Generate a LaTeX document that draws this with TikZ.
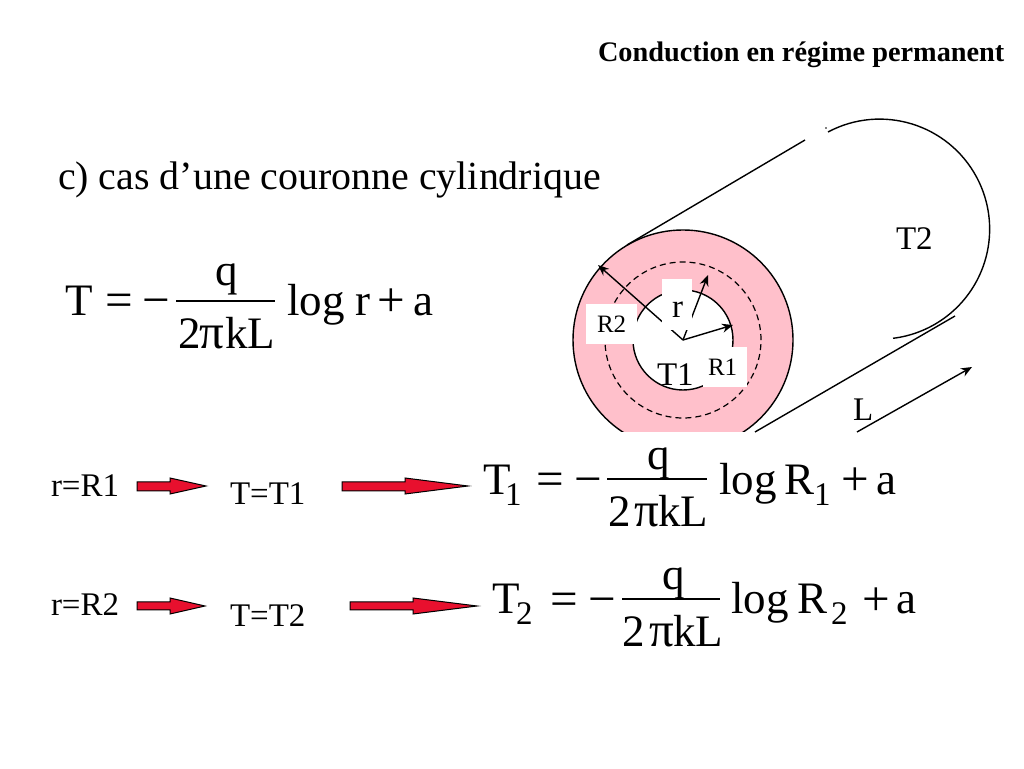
\documentclass[tikz,border=0pt]{standalone}
\usepackage{fontspec}
\setmainfont{Liberation Serif}
\usetikzlibrary{arrows.meta}
\definecolor{ringpink}{HTML}{FFC0CB}
\definecolor{arrowred}{HTML}{E8102E}
\newcommand{\fsz}[1]{\fontsize{#1}{#1}\selectfont}
\tikzset{
  x=1pt,y=1pt,
  lab/.style={anchor=base west,inner sep=0pt,outer sep=0pt,text=black},
  big/.style={lab,font=\fsz{45}},
  sym/.style={lab,font=\fsz{49}},
  sub/.style={lab,font=\fsz{33}},
  mid/.style={lab,font=\fsz{33}},
  dia/.style={lab,font=\fsz{33}},
  small/.style={lab,font=\fsz{25}},
  thin line/.style={draw=black,line width=1.4pt},
  tipline/.style={thin line,-{Stealth[length=11pt,width=9pt]}},
  redarrow/.style={draw=black,line width=1pt,fill=arrowred,line join=miter},
  mask/.style={fill=white,draw=none},
  bar/.style={draw=black,line width=1.3pt}
}
\begin{document}
\begin{tikzpicture}
\useasboundingbox (0,0) rectangle (1024,768);
\fill[white] (0,0) rectangle (1024,768);

% texts top
\node[lab,font=\bfseries\fsz{28.3}] (title) at (598,706) {Conduction en régime permanent};
\node[lab,font=\fsz{39.9}] (head) at (58,578) {c) cas d’une couronne cylindrique};

% ring
\begin{scope}
\clip (500,336) rectangle (850,600);
\fill[ringpink] (683,428) circle[radius=110];
\draw[thin line] (683,428) circle[radius=110];
\end{scope}
\fill[white,draw=black,line width=1.4pt] (683,428) circle[radius=50];
\draw[black,line width=1.2pt,dash pattern=on 6pt off 4pt] (683,428) circle[radius=78];

\coordinate (c) at (683,428);
\coordinate (r2tip) at (598,503);
\coordinate (rtip) at (708,493);
\coordinate (r1tip) at (733,443);
\draw[tipline] (c) -- (r2tip);
\draw[tipline] (c) -- (rtip);

% white label boxes
\fill[mask] (662,438) rectangle (692,489);
\fill[mask] (586,424) rectangle (637,464);
\fill[mask] (703,381) rectangle (747,421);
\draw[tipline] (c) -- (r1tip);

% cylinder
\coordinate (u1) at (627,523);
\coordinate (u2) at (805,628);
\coordinate (l1) at (755,336);
\coordinate (l2) at (955,452);
\draw[thin line] (u1) -- (u2);
\draw[thin line] (l1) -- (l2);
\draw[thin line] (828,636) arc[start angle=118,end angle=-83,radius=110];
\fill[black] (826,640) circle[radius=0.8];

% L arrow
\coordinate (la) at (857,336);
\coordinate (lb) at (972,401);
\draw[tipline] (la) -- (lb);

% diagram labels
\node[lab,font=\fsz{33}] (lL) at (853,347) {L};
\node[lab,font=\fsz{33}] (lT2) at (896,518) {T2};
\node[dia] (lT1) at (657,382) {T1};
\node[small] (lR1) at (708,392) {R1};
\node[small] (lR2) at (597,435) {R2};
\node[dia] (lr) at (672,450) {r};

% formula 1
\node[big] (a1) at (65,452) {T};
\node[sym] (a2) at (105,451) {=};
\node[sym] (a3) at (142,451) {−};
\node[big] (a4) at (215,482) {q};
\draw[bar] (176,467) -- (275,467);
\node[big] (a5) at (178,419) {2};
\node[sym] (a5b) at (199,419) {π};
\node[big] (a5c) at (225,419) {kL};
\node[big] (a6) at (287,452) {log r};
\node[sym] (a7) at (377,451) {+};
\node[big] (a8) at (413,452) {a};

% formula 2
\node[big] (b1) at (483,273) {T};
\node[sub] (b2) at (505,262) {1};
\node[sym] (b3) at (536,272) {=};
\node[sym] (b4) at (574,272) {−};
\node[big] (b5) at (647,298) {q};
\draw[bar] (607,289) -- (707,289);
\node[big] (b6) at (608,241) {2};
\node[sym] (b6b) at (634,241) {π};
\node[big] (b6c) at (658,241) {kL};
\node[big] (b7) at (719,273) {log};
\node[big] (b7b) at (784,273) {R};
\node[sub] (b8) at (814,262) {1};
\node[sym] (b9) at (841,272) {+};
\node[big] (b10) at (876,273) {a};

% formula 3
\node[big] (d1) at (492,154) {T};
\node[sub] (d2) at (516,143) {2};
\node[sym] (d3) at (550,153) {=};
\node[sym] (d4) at (588,153) {−};
\node[big] (d5) at (662,178) {q};
\draw[bar] (622,169) -- (720,169);
\node[big] (d6) at (622,122) {2};
\node[sym] (d6b) at (649,122) {π};
\node[big] (d6c) at (673,122) {kL};
\node[big] (d7) at (731,154) {log};
\node[big] (d7b) at (797,154) {R};
\node[sub] (d8) at (831,143) {2};
\node[sym] (d9) at (862,153) {+};
\node[big] (d10) at (896,154) {a};

% rows
\node[mid] (r1) at (51,271) {r=R1};
\node[mid] (t1) at (230,263) {T=T1};
\node[mid] (r2) at (51,152) {r=R2};
\node[mid] (t2) at (230,142) {T=T2};

% red arrows
\draw[redarrow] (137,286) -- (170,286) -- (170,290) -- (206,282) -- (170,274) -- (170,277) -- (137,277) -- cycle;
\draw[redarrow] (342,286) -- (405,286) -- (405,290) -- (468,282) -- (405,274) -- (405,277) -- (342,277) -- cycle;
\draw[redarrow] (137,166) -- (170,166) -- (170,170) -- (205,162) -- (170,154) -- (170,158) -- (137,158) -- cycle;
\draw[redarrow] (350,166) -- (413,166) -- (413,170) -- (477,162) -- (413,154) -- (413,158) -- (350,158) -- cycle;
\end{tikzpicture}
\end{document}
